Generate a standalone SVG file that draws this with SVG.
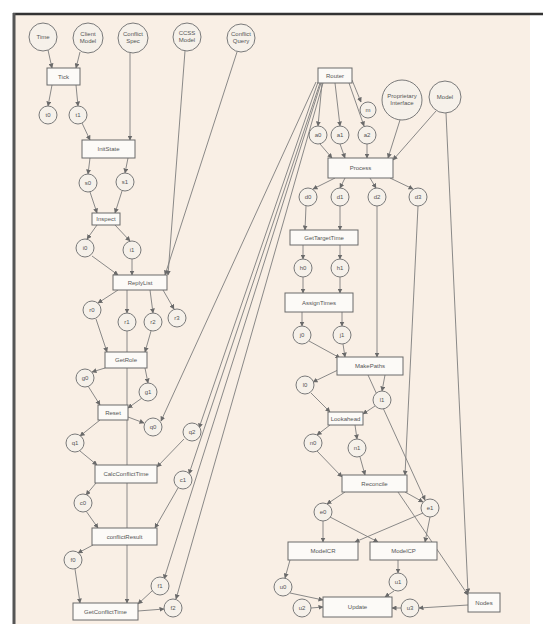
<svg xmlns="http://www.w3.org/2000/svg" width="543" height="624" viewBox="0 0 543 624">
<style>
.b{fill:#fcfaf7;stroke:#6a6a6a;stroke-width:1}
.c{fill:#f6f1ea;stroke:#7a7a7a;stroke-width:1}
.t{font-family:"Liberation Sans",Arial,sans-serif;font-size:6px;fill:#555;text-anchor:middle}
.e path,.e line{stroke:#7d7d7d;stroke-width:0.9;fill:none}
.a{marker-end:url(#ah)}
</style>
<defs>
<marker id="ah" markerWidth="5" markerHeight="5" refX="4.5" refY="2.5" orient="auto" markerUnits="userSpaceOnUse">
<path d="M0,0 L5,2.5 L0,5 z" fill="#6a6a6a"/>
</marker>
</defs>
<rect width="543" height="624" fill="#ffffff"/>
<rect x="13" y="13" width="517" height="611" fill="#f9efe5"/>
<line x1="13" y1="14" x2="543" y2="14" stroke="#333" stroke-width="2.5"/>
<line x1="14" y1="13" x2="14" y2="624" stroke="#555" stroke-width="3"/>

<g class="e" id="connectors">
<line class="a" x1="48" y1="50" x2="52" y2="68"/>
<line class="a" x1="80" y1="52" x2="76" y2="68"/>
<line class="a" x1="52" y1="85" x2="48" y2="106"/>
<line class="a" x1="76" y1="85" x2="78" y2="106"/>
<line class="a" x1="82" y1="123" x2="90" y2="140"/>
<line class="a" x1="130" y1="53" x2="130" y2="140"/>
<line class="a" x1="90" y1="158" x2="88" y2="174"/>
<line class="a" x1="128" y1="158" x2="125" y2="173"/>
<line class="a" x1="90" y1="192" x2="97" y2="213"/>
<line class="a" x1="122" y1="191" x2="115" y2="213"/>
<line class="a" x1="97" y1="225" x2="87" y2="239"/>
<line class="a" x1="115" y1="225" x2="130" y2="241"/>
<line class="a" x1="92" y1="256" x2="118" y2="275"/>
<line class="a" x1="132" y1="259" x2="132" y2="275"/>
<line class="a" x1="185" y1="51" x2="168" y2="275"/>
<line class="a" x1="237" y1="52" x2="165" y2="275"/>
<line class="a" x1="118" y1="290" x2="98" y2="303"/>
<line class="a" x1="127" y1="290" x2="127" y2="313"/>
<line class="a" x1="150" y1="290" x2="153" y2="313"/>
<line class="a" x1="163" y1="290" x2="174" y2="309"/>
<line class="a" x1="96" y1="319" x2="107" y2="352"/>
<line class="a" x1="151" y1="331" x2="145" y2="352"/>
<line class="a" x1="127" y1="331" x2="127" y2="603"/>
<line class="a" x1="105" y1="368" x2="92" y2="372"/>
<line class="a" x1="145" y1="368" x2="148" y2="383"/>
<line class="a" x1="88" y1="386" x2="100" y2="405"/>
<line class="a" x1="142" y1="398" x2="128" y2="408"/>
<line class="a" x1="128" y1="417" x2="144" y2="423"/>
<line class="a" x1="100" y1="420" x2="80" y2="436"/>
<line class="a" x1="80" y1="451" x2="97" y2="465"/>
<line class="a" x1="184" y1="439" x2="157" y2="467"/>
<line class="a" x1="96" y1="483" x2="86" y2="495"/>
<line class="a" x1="86" y1="511" x2="98" y2="528"/>
<line class="a" x1="178" y1="488" x2="155" y2="528"/>
<line class="a" x1="93" y1="545" x2="78" y2="553"/>
<line class="a" x1="75" y1="569" x2="80" y2="603"/>
<line class="a" x1="152" y1="591" x2="138" y2="604"/>
<line class="a" x1="138" y1="611" x2="164" y2="609"/>
<line class="a" x1="316" y1="82" x2="161" y2="421"/>
<line class="a" x1="318" y1="82" x2="199" y2="428"/>
<line class="a" x1="320" y1="83" x2="189" y2="474"/>
<line class="a" x1="321" y1="83" x2="164" y2="579"/>
<line class="a" x1="323" y1="83" x2="176" y2="599"/>
<line class="a" x1="322" y1="83" x2="318" y2="126"/>
<line class="a" x1="335" y1="83" x2="340" y2="126"/>
<line class="a" x1="349" y1="83" x2="364" y2="126"/>
<line class="a" x1="352" y1="80" x2="361" y2="102"/>
<line class="a" x1="320" y1="144" x2="332" y2="158"/>
<line class="a" x1="340" y1="144" x2="345" y2="158"/>
<line class="a" x1="367" y1="144" x2="367" y2="158"/>
<line class="a" x1="400" y1="120" x2="388" y2="158"/>
<line class="a" x1="436" y1="111" x2="393" y2="160"/>
<line class="a" x1="446" y1="113" x2="468" y2="593"/>
<line class="a" x1="335" y1="178" x2="313" y2="189"/>
<line class="a" x1="345" y1="178" x2="340" y2="188"/>
<line class="a" x1="370" y1="178" x2="376" y2="188"/>
<line class="a" x1="390" y1="178" x2="413" y2="189"/>
<line class="a" x1="306" y1="206" x2="305" y2="230"/>
<line class="a" x1="340" y1="206" x2="340" y2="230"/>
<line class="a" x1="377" y1="206" x2="377" y2="357"/>
<line class="a" x1="418" y1="206" x2="405" y2="475"/>
<line class="a" x1="303" y1="245" x2="303" y2="259"/>
<line class="a" x1="340" y1="245" x2="340" y2="259"/>
<line class="a" x1="303" y1="277" x2="303" y2="293"/>
<line class="a" x1="340" y1="277" x2="340" y2="293"/>
<line class="a" x1="302" y1="312" x2="302" y2="326"/>
<line class="a" x1="342" y1="312" x2="342" y2="326"/>
<line class="a" x1="309" y1="341" x2="340" y2="358"/>
<line class="a" x1="343" y1="344" x2="345" y2="357"/>
<line class="a" x1="338" y1="370" x2="313" y2="382"/>
<line class="a" x1="385" y1="375" x2="382" y2="391"/>
<line class="a" x1="368" y1="375" x2="425" y2="500"/>
<line class="a" x1="311" y1="393" x2="330" y2="412"/>
<line class="a" x1="375" y1="406" x2="363" y2="414"/>
<line class="a" x1="330" y1="425" x2="317" y2="435"/>
<line class="a" x1="355" y1="425" x2="357" y2="439"/>
<line class="a" x1="317" y1="451" x2="342" y2="477"/>
<line class="a" x1="360" y1="457" x2="365" y2="475"/>
<line class="a" x1="345" y1="492" x2="327" y2="504"/>
<line class="a" x1="405" y1="492" x2="423" y2="502"/>
<line class="a" x1="398" y1="492" x2="468" y2="595"/>
<line class="a" x1="323" y1="521" x2="323" y2="542"/>
<line class="a" x1="330" y1="517" x2="378" y2="542"/>
<line class="a" x1="423" y1="513" x2="355" y2="542"/>
<line class="a" x1="430" y1="517" x2="425" y2="542"/>
<line class="a" x1="290" y1="560" x2="285" y2="578"/>
<line class="a" x1="398" y1="560" x2="398" y2="573"/>
<line class="a" x1="290" y1="593" x2="323" y2="600"/>
<line class="a" x1="394" y1="591" x2="385" y2="597"/>
<line class="a" x1="311" y1="608" x2="323" y2="607"/>
<line class="a" x1="468" y1="605" x2="419" y2="608"/>
<line class="a" x1="401" y1="608" x2="392" y2="608"/>
</g>

<g id="time"><circle class="c" cx="43" cy="37" r="14"/><text class="t" x="43" y="39">Time</text></g>
<g id="clientmodel"><circle class="c" cx="88" cy="38" r="15"/><text class="t" x="88" y="36">Client</text><text class="t" x="88" y="43">Model</text></g>
<g id="conflictspec"><circle class="c" cx="133" cy="38" r="15"/><text class="t" x="133" y="36">Conflict</text><text class="t" x="133" y="43">Spec</text></g>
<g id="ccssmodel"><circle class="c" cx="187" cy="37" r="14"/><text class="t" x="187" y="35">CCSS</text><text class="t" x="187" y="42">Model</text></g>
<g id="conflictquery"><circle class="c" cx="241" cy="38" r="14"/><text class="t" x="241" y="36">Conflict</text><text class="t" x="241" y="43">Query</text></g>

<g id="tick"><rect class="b" x="47" y="68" width="33" height="17"/><text class="t" x="63.5" y="79">Tick</text></g>
<g id="p1"><circle class="c" cx="48" cy="115" r="9"/><text class="t" x="48" y="117">t0</text></g>
<g id="p2"><circle class="c" cx="78" cy="115" r="9"/><text class="t" x="78" y="117">t1</text></g>
<g id="initstate"><rect class="b" x="82" y="140" width="53" height="18"/><text class="t" x="108.5" y="151">InitState</text></g>
<g id="p3"><circle class="c" cx="88" cy="183" r="9"/><text class="t" x="88" y="185">s0</text></g>
<g id="p4"><circle class="c" cx="125" cy="182" r="9"/><text class="t" x="125" y="184">s1</text></g>
<g id="inspect"><rect class="b" x="92" y="213" width="28" height="12"/><text class="t" x="106" y="221">Inspect</text></g>
<g id="p5"><circle class="c" cx="85" cy="248" r="9"/><text class="t" x="85" y="250">i0</text></g>
<g id="p6"><circle class="c" cx="132" cy="250" r="9"/><text class="t" x="132" y="252">i1</text></g>
<g id="replylist"><rect class="b" x="113" y="275" width="54" height="15"/><text class="t" x="140" y="284.5">ReplyList</text></g>
<g id="p7"><circle class="c" cx="92" cy="310" r="9"/><text class="t" x="92" y="312">r0</text></g>
<g id="p8"><circle class="c" cx="127" cy="322" r="9"/><text class="t" x="127" y="324">r1</text></g>
<g id="p9"><circle class="c" cx="153" cy="322" r="9"/><text class="t" x="153" y="324">r2</text></g>
<g id="p10"><circle class="c" cx="177" cy="318" r="9"/><text class="t" x="177" y="320">r3</text></g>
<g id="getrole"><rect class="b" x="105" y="352" width="42" height="16"/><text class="t" x="126" y="362">GetRole</text></g>
<g id="p11"><circle class="c" cx="85" cy="378" r="9"/><text class="t" x="85" y="380">g0</text></g>
<g id="p12"><circle class="c" cx="148" cy="392" r="9"/><text class="t" x="148" y="394">g1</text></g>
<g id="reset"><rect class="b" x="98" y="405" width="30" height="15"/><text class="t" x="113" y="414.5">Reset</text></g>
<g id="p13"><circle class="c" cx="153" cy="427" r="9"/><text class="t" x="153" y="429">q0</text></g>
<g id="p14"><circle class="c" cx="75" cy="443" r="9"/><text class="t" x="75" y="445">q1</text></g>
<g id="p15"><circle class="c" cx="192" cy="432" r="9"/><text class="t" x="192" y="434">q2</text></g>
<g id="calcconflicttime"><rect class="b" x="95" y="465" width="62" height="18"/><text class="t" x="126" y="476">CalcConflictTime</text></g>
<g id="p16"><circle class="c" cx="83" cy="503" r="9"/><text class="t" x="83" y="505">c0</text></g>
<g id="p17"><circle class="c" cx="183" cy="480" r="9"/><text class="t" x="183" y="482">c1</text></g>
<g id="conflictresult"><rect class="b" x="92" y="528" width="65" height="17"/><text class="t" x="124.5" y="538.5">conflictResult</text></g>
<g id="p18"><circle class="c" cx="73" cy="560" r="9"/><text class="t" x="73" y="562">f0</text></g>
<g id="p19"><circle class="c" cx="160" cy="586" r="9"/><text class="t" x="160" y="588">f1</text></g>
<g id="p20"><circle class="c" cx="173" cy="608" r="9"/><text class="t" x="173" y="610">f2</text></g>
<g id="getconflicttime"><rect class="b" x="73" y="603" width="65" height="17"/><text class="t" x="105.5" y="613.5">GetConflictTime</text></g>

<g id="router"><rect class="b" x="318" y="68" width="34" height="15"/><text class="t" x="335" y="77.5">Router</text></g>
<g id="pr1"><circle class="c" cx="368" cy="110" r="8"/><text class="t" x="368" y="112">m</text></g>
<g id="proprietary"><circle class="c" cx="402" cy="100" r="20"/><text class="t" x="402" y="98">Proprietary</text><text class="t" x="402" y="105">Interface</text></g>
<g id="model"><circle class="c" cx="445" cy="97" r="16"/><text class="t" x="445" y="99">Model</text></g>
<g id="pa"><circle class="c" cx="318" cy="135" r="9"/><text class="t" x="318" y="137">a0</text></g>
<g id="pb"><circle class="c" cx="340" cy="135" r="9"/><text class="t" x="340" y="137">a1</text></g>
<g id="pc"><circle class="c" cx="367" cy="135" r="9"/><text class="t" x="367" y="137">a2</text></g>
<g id="process"><rect class="b" x="328" y="158" width="65" height="20"/><text class="t" x="360.5" y="170">Process</text></g>
<g id="pd"><circle class="c" cx="308" cy="197" r="9"/><text class="t" x="308" y="199">d0</text></g>
<g id="pe"><circle class="c" cx="340" cy="197" r="9"/><text class="t" x="340" y="199">d1</text></g>
<g id="pf"><circle class="c" cx="377" cy="197" r="9"/><text class="t" x="377" y="199">d2</text></g>
<g id="pg"><circle class="c" cx="418" cy="197" r="9"/><text class="t" x="418" y="199">d3</text></g>
<g id="gettargettime"><rect class="b" x="290" y="230" width="68" height="15"/><text class="t" x="324" y="239.5">GetTargetTime</text></g>
<g id="ph"><circle class="c" cx="303" cy="268" r="9"/><text class="t" x="303" y="270">h0</text></g>
<g id="pi"><circle class="c" cx="340" cy="268" r="9"/><text class="t" x="340" y="270">h1</text></g>
<g id="assigntimes"><rect class="b" x="285" y="293" width="68" height="19"/><text class="t" x="319" y="304.5">AssignTimes</text></g>
<g id="pj"><circle class="c" cx="302" cy="335" r="9"/><text class="t" x="302" y="337">j0</text></g>
<g id="pk"><circle class="c" cx="342" cy="335" r="9"/><text class="t" x="342" y="337">j1</text></g>
<g id="makepaths"><rect class="b" x="337" y="357" width="66" height="18"/><text class="t" x="370" y="368">MakePaths</text></g>
<g id="pl"><circle class="c" cx="305" cy="385" r="9"/><text class="t" x="305" y="387">l0</text></g>
<g id="pm"><circle class="c" cx="382" cy="400" r="9"/><text class="t" x="382" y="402">l1</text></g>
<g id="lookahead"><rect class="b" x="328" y="412" width="35" height="13"/><text class="t" x="345.5" y="420.5">Lookahead</text></g>
<g id="pn"><circle class="c" cx="313" cy="443" r="9"/><text class="t" x="313" y="445">n0</text></g>
<g id="po"><circle class="c" cx="357" cy="448" r="9"/><text class="t" x="357" y="450">n1</text></g>
<g id="reconcile"><rect class="b" x="342" y="475" width="65" height="17"/><text class="t" x="374.5" y="485.5">Reconcile</text></g>
<g id="pp"><circle class="c" cx="323" cy="512" r="9"/><text class="t" x="323" y="514">e0</text></g>
<g id="pq"><circle class="c" cx="430" cy="508" r="9"/><text class="t" x="430" y="510">e1</text></g>
<g id="modelcr"><rect class="b" x="288" y="542" width="70" height="18"/><text class="t" x="323" y="553">ModelCR</text></g>
<g id="modelcp"><rect class="b" x="370" y="542" width="67" height="18"/><text class="t" x="403.5" y="553">ModelCP</text></g>
<g id="pr"><circle class="c" cx="283" cy="587" r="9"/><text class="t" x="283" y="589">u0</text></g>
<g id="ps"><circle class="c" cx="398" cy="582" r="9"/><text class="t" x="398" y="584">u1</text></g>
<g id="update"><rect class="b" x="323" y="597" width="69" height="20"/><text class="t" x="357.5" y="609">Update</text></g>
<g id="pt"><circle class="c" cx="302" cy="608" r="9"/><text class="t" x="302" y="610">u2</text></g>
<g id="pu"><circle class="c" cx="410" cy="608" r="9"/><text class="t" x="410" y="610">u3</text></g>
<g id="nodes"><rect class="b" x="468" y="593" width="32" height="19"/><text class="t" x="484" y="604.5">Nodes</text></g>
</svg>
